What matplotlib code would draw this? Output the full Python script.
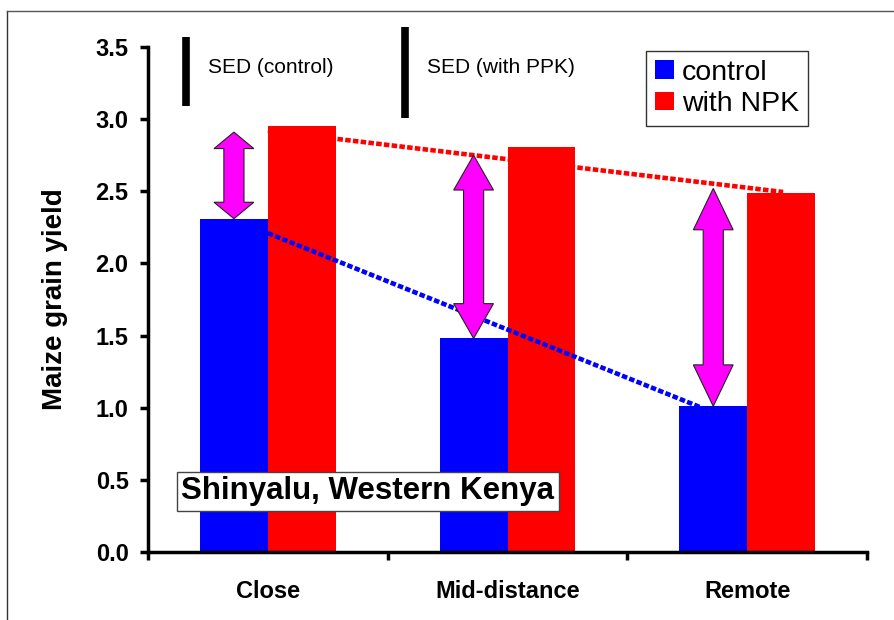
import numpy as np
import matplotlib
matplotlib.use("Agg")
import matplotlib.pyplot as plt
from matplotlib.patches import Polygon
from matplotlib.lines import Line2D

plt.rcParams["font.family"] = ["Liberation Sans", "DejaVu Sans"]

sites = ["Close", "Mid-distance", "Remote"]
control = [2.31, 1.48, 1.01]
npk = [2.95, 2.81, 2.49]

# hand-drawn dotted trend lines (x in category units, y in yield)
ctrl_trend_x = [0.0, 1.81]
ctrl_trend_y = [2.21, 1.00]
npk_trend_x = [0.0, 2.15]
npk_trend_y = [2.92, 2.495]

# tops of the magenta response arrows (bottoms sit on the control bars)
gap_top = [2.91, 2.75, 2.52]

# SED bars: x position, bottom, length
sed_x = [-0.342, 0.571]
sed_bottom = [3.09, 3.01]
sed_len = [0.48, 0.63]
sed_labels = ["SED (control)", "SED (with PPK)"]

BLUE, RED, MAGENTA = "#0000FF", "#FF0000", "#FF00FF"

fig = plt.figure(figsize=(8.94, 6.2), dpi=100)
ax = fig.add_axes([148 / 894, 1 - 552 / 620, (867 - 148) / 894, (552 - 47) / 620])

x = np.arange(len(sites))
w = 0.283
ax.bar(x - w / 2, control, w, color=BLUE, label="control", zorder=2)
ax.bar(x + w / 2, npk, w, color=RED, label="with NPK", zorder=2)

dots = (0, (1.2, 0.5))
ax.plot(npk_trend_x, npk_trend_y, color=RED, lw=3.3, ls=dots, dash_capstyle="butt", zorder=1)
ax.plot(ctrl_trend_x, ctrl_trend_y, color=BLUE, lw=3.3, ls=dots, dash_capstyle="butt", zorder=3)


def double_arrow(xc, y0, y1):
    hw, sw = 0.083, 0.042
    hl = 0.19 * (y1 - y0)
    pts = [(xc, y0), (xc + hw, y0 + hl), (xc + sw, y0 + hl), (xc + sw, y1 - hl),
           (xc + hw, y1 - hl), (xc, y1), (xc - hw, y1 - hl), (xc - sw, y1 - hl),
           (xc - sw, y0 + hl), (xc - hw, y0 + hl)]
    ax.add_patch(Polygon(pts, closed=True, facecolor=MAGENTA, edgecolor="#222222",
                         lw=0.8, zorder=4))


for i in range(len(sites)):
    double_arrow(x[i] - w / 2, control[i], gap_top[i])

for sx, sb, sl, lab in zip(sed_x, sed_bottom, sed_len, sed_labels):
    ax.plot([sx, sx], [sb, sb + sl], color="black", lw=5.5, solid_capstyle="butt",
            clip_on=False, zorder=3)
    ax.text(sx + 0.092, 3.36, lab, fontsize=15, va="center", ha="left")

ax.text(0.417, 0.42, "Shinyalu, Western Kenya", fontsize=22.5, fontweight="bold",
        ha="center", va="center", zorder=5,
        bbox=dict(boxstyle="square,pad=0.15", fc="white", ec="#444444", lw=1))

ax.set_xlim(-0.5, 2.5)
ax.set_ylim(0, 3.5)
ax.set_yticks(np.arange(0, 3.51, 0.5))
ax.set_yticklabels([f"{v:.1f}" for v in np.arange(0, 3.51, 0.5)], fontsize=17, fontweight="bold")
ax.set_xticks(x)
ax.set_xticklabels(sites, fontsize=17, fontweight="bold")
ax.set_xticks([-0.5, 0.5, 1.5, 2.5], minor=True)
ax.tick_params(axis="x", which="major", length=0, pad=20)
ax.tick_params(axis="x", which="minor", length=6, width=2.5, direction="out")
ax.tick_params(axis="y", length=6, width=2.5, direction="out", pad=8)
for s in ["top", "right"]:
    ax.spines[s].set_visible(False)
for s in ["left", "bottom"]:
    ax.spines[s].set_linewidth(2.5)
ax.set_ylabel("Maize grain yield", fontsize=20, fontweight="bold", labelpad=20)

ax.legend(loc="upper left", bbox_to_anchor=(646 / 894, 1 - 51 / 620),
          bbox_transform=fig.transFigure, fontsize=20.5, frameon=True, fancybox=False,
          edgecolor="black", borderaxespad=0, handlelength=0.67, handleheight=0.6,
          handletextpad=0.3, labelspacing=0.2, borderpad=0.3).get_frame().set_linewidth(1)

# outer frame of the original slide
fig.add_artist(Line2D([7 / 894, 7 / 894], [0, 1 - 11 / 620], color="#333333", lw=1))
fig.add_artist(Line2D([7 / 894, 1], [1 - 11 / 620, 1 - 11 / 620], color="#555555", lw=1))

fig.savefig("out.png", dpi=100)
